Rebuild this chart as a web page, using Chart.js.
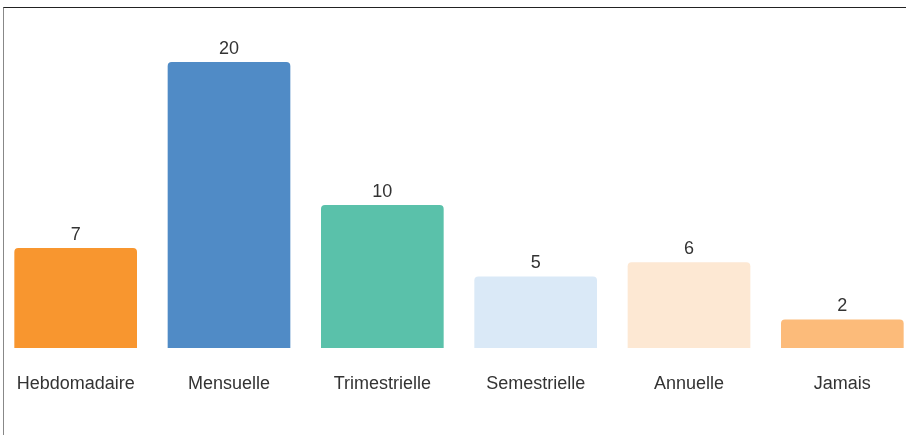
<!DOCTYPE html>
<html>
<head>
<meta charset="utf-8">
<script src="https://cdn.jsdelivr.net/npm/chart.js@4"></script>
<style>
    html, body { margin: 0; padding: 0; background: #fff; overflow: hidden; width: 906px; height: 435px; }
    #frame { position: absolute; left: 3px; top: 7px; width: 920px; height: 440px;
             border-top: 1px solid #222; border-left: 1px solid #888; z-index: 2; pointer-events: none; }
    #chart { position: absolute; left: -1px; top: 0; }
</style>
</head>
<body>
<div id="frame"></div>
<canvas id="chart" width="920" height="435"></canvas>
<script>
    // frequences et nombre de reponses
    const categories = ['Hebdomadaire', 'Mensuelle', 'Trimestrielle', 'Semestrielle', 'Annuelle', 'Jamais'];
    const counts = [7, 20, 10, 5, 6, 2];
    const barColors = ['#F8962F', '#508BC6', '#5AC1AA', '#DAE9F7', '#FDE8D3', '#FCBB7A'];

    // labels au-dessus des barres
    const valueLabels = {
        id: 'valueLabels',
        afterDatasetsDraw(chart) {
            const ctx = chart.ctx;
            const meta = chart.getDatasetMeta(0);
            ctx.save();
            ctx.font = '18px "Liberation Sans", Arial, sans-serif';
            ctx.fillStyle = '#333';
            ctx.textAlign = 'center';
            ctx.textBaseline = 'middle';
            meta.data.forEach((bar, i) => {
                ctx.fillText(String(counts[i]), bar.x, bar.y - 13);
            });
            ctx.restore();
        }
    };

    const ctx = document.getElementById('chart');

    new Chart(ctx, {
        type: 'bar',
        data: {
            labels: categories,
            datasets: [{
                data: counts,
                backgroundColor: barColors,
                borderRadius: 4,
                borderSkipped: 'start',
                barPercentage: 1,
                categoryPercentage: 0.8
            }]
        },
        options: {
            responsive: false,
            animation: false,
            layout: {
                padding: {top: 62, bottom: 15.4, left: 0, right: 0}
            },
            plugins: {
                legend: {display: false},
                tooltip: {enabled: false}
            },
            scales: {
                x: {
                    grid: {display: false, drawTicks: false},
                    border: {display: false},
                    afterFit(scale) {
                        // pas de marge auto pour les labels du bord
                        scale.paddingLeft = 0;
                        scale.paddingRight = 0;
                    },
                    ticks: {
                        color: '#333',
                        padding: 25,
                        font: {family: '"Liberation Sans", Arial, sans-serif', size: 18}
                    }
                },
                y: {
                    display: false,
                    min: 0,
                    max: 20
                }
            }
        },
        plugins: [valueLabels]
    });
</script>
</body>
</html>
